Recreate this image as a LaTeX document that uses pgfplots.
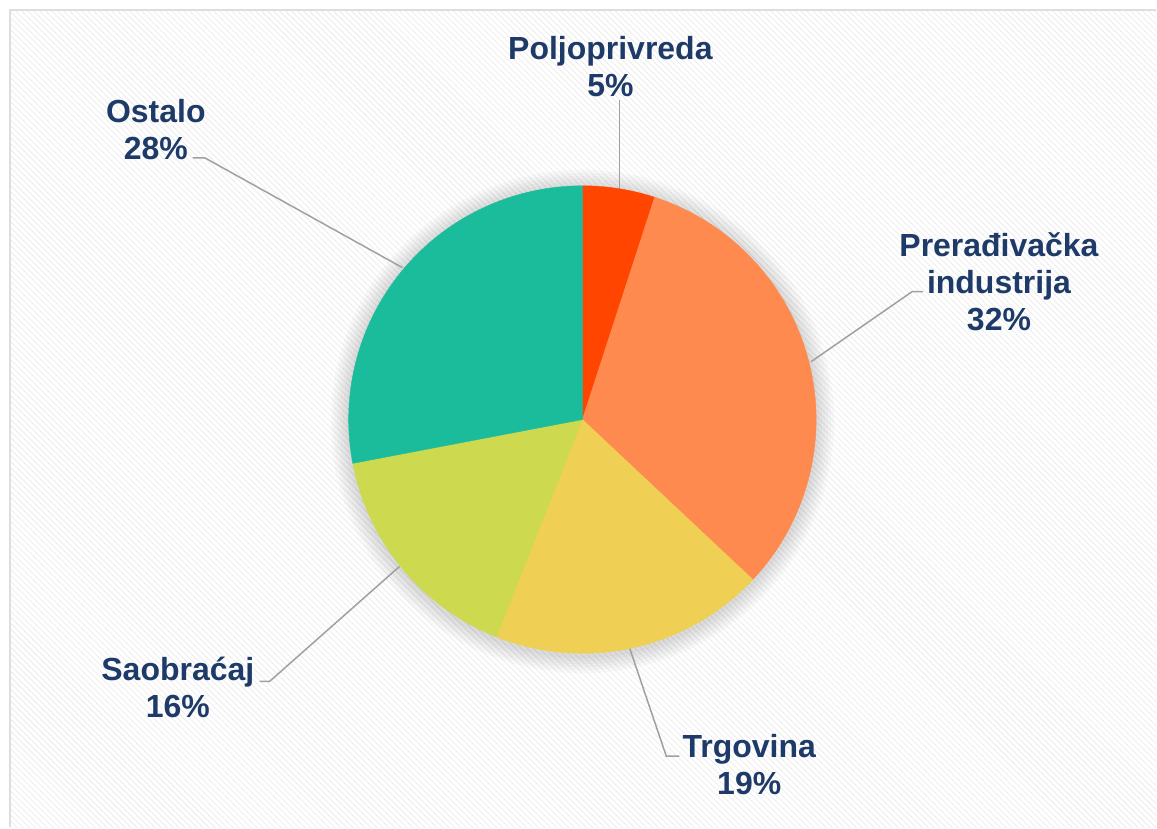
\documentclass[border=0pt]{standalone}
\usepackage{pgfplots}
\pgfplotsset{compat=1.18}
\usepackage{fontspec}
\setmainfont{Liberation Sans}
\usetikzlibrary{patterns}

\definecolor{cPol}{RGB}{255,69,0}
\definecolor{cPre}{RGB}{255,138,80}
\definecolor{cTrg}{RGB}{239,208,84}
\definecolor{cSao}{RGB}{205,217,78}
\definecolor{cOst}{RGB}{27,188,155}
\definecolor{labtxt}{RGB}{30,58,104}
\definecolor{leader}{RGB}{160,160,160}
\definecolor{frame}{RGB}{222,222,222}

\tikzset{
  lab/.style={font=\bfseries\fontsize{16}{18.5}\selectfont, text=labtxt, align=center, inner sep=0pt},
  lead/.style={leader, line width=0.75pt},
}

% shares in percent
\def\vPol{5}
\def\vPre{32}
\def\vTrg{19}
\def\vSao{16}
\def\vOst{28}

\begin{document}
\begin{tikzpicture}
% slice angles, clockwise from 12 o'clock
\pgfmathsetmacro{\aA}{90}
\pgfmathsetmacro{\aB}{\aA-3.6*\vPol}
\pgfmathsetmacro{\aC}{\aB-3.6*\vPre}
\pgfmathsetmacro{\aD}{\aC-3.6*\vTrg}
\pgfmathsetmacro{\aE}{\aD-3.6*\vSao}
\pgfmathsetmacro{\aF}{\aE-3.6*\vOst}
\begin{axis}[
  width=578.5pt, height=414pt, scale only axis,
  xmin=0, xmax=1157, ymin=0, ymax=828,
  hide axis, clip=false,
]
% background
\fill[white] (axis cs:0,0) rectangle (axis cs:1157,828);
\fill[pattern=north west lines, pattern color=black!7] (axis cs:11,0) rectangle (axis cs:1157,817);
\draw[frame, line width=1.2pt] (axis cs:10,0) -- (axis cs:10,818) -- (axis cs:1157,818);

% soft shadow
\pgfplotsinvokeforeach{3,6,9,12,15,18}{
  \addplot[draw=none, fill=black, fill opacity=0.022, domain=0:360, samples=120]
    ({583+(234+#1)*cos(x)},{406+(234+#1)*sin(x)}) -- cycle;
}

% leader lines (under the pie)
\addplot[lead] coordinates {(620,728) (620,620)};
\addplot[lead] coordinates {(812,466) (913,536) (924,536)};
\addplot[lead] coordinates {(193,670) (205,670) (403,560)};
\addplot[lead] coordinates {(260,146) (270,146) (400,261)};
\addplot[lead] coordinates {(680,71) (667,71) (630,180)};

% slices
\addplot[fill=cPol, draw=cPol, line width=0.2pt, domain=\aA:\aB, samples=20] ({583+234*cos(x)},{408+234*sin(x)}) -- (axis cs:583,408) -- cycle;
\addplot[fill=cPre, draw=cPre, line width=0.2pt, domain=\aB:\aC, samples=80] ({583+234*cos(x)},{408+234*sin(x)}) -- (axis cs:583,408) -- cycle;
\addplot[fill=cTrg, draw=cTrg, line width=0.2pt, domain=\aC:\aD, samples=60] ({583+234*cos(x)},{408+234*sin(x)}) -- (axis cs:583,408) -- cycle;
\addplot[fill=cSao, draw=cSao, line width=0.2pt, domain=\aD:\aE, samples=50] ({583+234*cos(x)},{408+234*sin(x)}) -- (axis cs:583,408) -- cycle;
\addplot[fill=cOst, draw=cOst, line width=0.2pt, domain=\aE:\aF, samples=80] ({583+234*cos(x)},{408+234*sin(x)}) -- (axis cs:583,408) -- cycle;

% labels
\node[lab] at (axis cs:611,761) {Poljoprivreda\\5\%};
\node[lab] at (axis cs:1000,546) {Prerađivačka\\industrija\\32\%};
\node[lab] at (axis cs:156,698) {Ostalo\\28\%};
\node[lab] at (axis cs:178,140) {Saobraćaj\\16\%};
\node[lab] at (axis cs:750,63) {Trgovina\\19\%};
\end{axis}
\end{tikzpicture}
\end{document}
